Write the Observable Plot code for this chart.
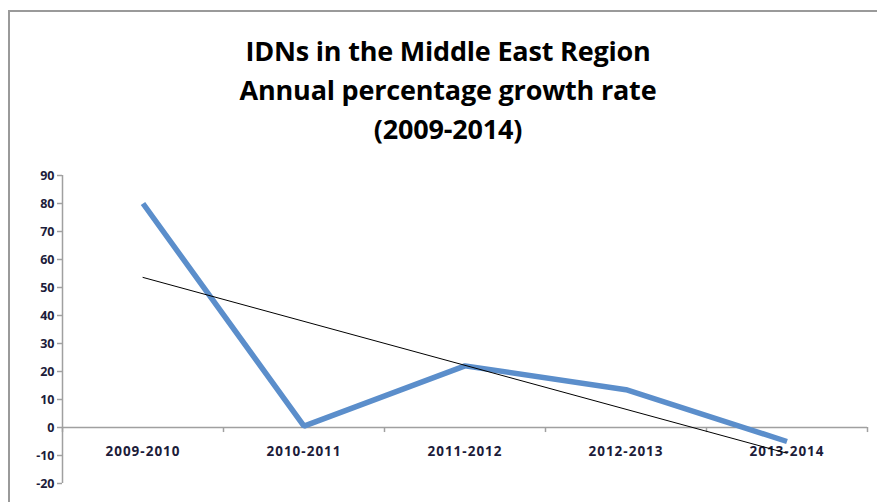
<!DOCTYPE html>
<html>
<head>
<meta charset="utf-8">
<script src="https://cdn.jsdelivr.net/npm/d3@7"></script>
<script src="https://cdn.jsdelivr.net/npm/@observablehq/plot@0.6"></script>
<style>
  body { margin: 0; background: #fff; width: 877px; height: 502px; overflow: hidden; position: relative; font-family: "Open Sans", sans-serif; }
  #frame { position: absolute; left: 8px; top: 10px; width: 900px; height: 520px; border-left: 2px solid #9a9a9a; border-top: 2px solid #9a9a9a; }
  #title { position: absolute; left: 0; top: 31px; width: 896px; text-align: center; font-weight: bold; font-size: 27px; line-height: 39px; color: #000; letter-spacing: -0.2px; }
  #chart { position: absolute; left: 0; top: 160px; }
</style>
</head>
<body>
<div id="frame"></div>
<div id="title">IDNs in the Middle East Region<br>Annual percentage growth rate<br>(2009-2014)</div>
<div id="chart"></div>
<script>
const periods = ["2009-2010", "2010-2011", "2011-2012", "2012-2013", "2013-2014"];
const growth = [80, 0.5, 22, 13.5, -5];
const yTicks = [-20, -10, 0, 10, 20, 30, 40, 50, 60, 70, 80, 90];

const data = periods.map((p, i) => ({i, period: p, value: growth[i]}));
const boundaries = d3.range(periods.length + 1).map(k => k - 0.5);
const axisColor = "#a0a0a0";
const labelColor = "#1c1c3a";

const plot = Plot.plot({
  width: 877,
  height: 342,
  marginLeft: 62,
  marginRight: 10,
  marginTop: 15,
  marginBottom: 19,
  style: {fontFamily: "'Open Sans', sans-serif", background: "transparent"},
  x: {type: "linear", domain: [-0.5, periods.length - 0.5], axis: null},
  y: {type: "linear", domain: [-20, 90], axis: null},
  marks: [
    // y axis line
    Plot.ruleX([-0.5], {stroke: axisColor, strokeWidth: 1.5}),
    Plot.axisY({ticks: yTicks, label: null, tickSize: 5, stroke: axisColor, strokeWidth: 1.5, tickPadding: 3, fontSize: 12.5, fontWeight: "bold", fill: labelColor, tickFormat: d => d}),
    // x axis line at 0
    Plot.ruleY([0], {x1: -0.5, x2: periods.length - 0.5, stroke: axisColor, strokeWidth: 1.5}),
    // category boundary ticks
    Plot.ruleX(boundaries, {y1: 0, y2: -1.8, stroke: axisColor, strokeWidth: 1.5}),
    // category labels
    Plot.text(data, {x: "i", y: -8.75, text: "period", fontSize: 13.5, fontWeight: "bold", fill: labelColor, letterSpacing: 1, style: "letter-spacing:1px"}),
    // series line
    Plot.line(data, {x: "i", y: "value", stroke: "#5b8ecb", strokeWidth: 5.5, strokeLinejoin: "miter", strokeLinecap: "butt"}),
    // linear trendline
    Plot.linearRegressionY(data, {x: "i", y: "value", stroke: "#000", strokeWidth: 1, ci: 0})
  ]
});
d3.select(plot).selectAll("text").filter(function() { return /^\d{4}-\d{4}$/.test(this.textContent); }).style("letter-spacing", "1px");
document.getElementById("chart").appendChild(plot);
</script>
</body>
</html>
